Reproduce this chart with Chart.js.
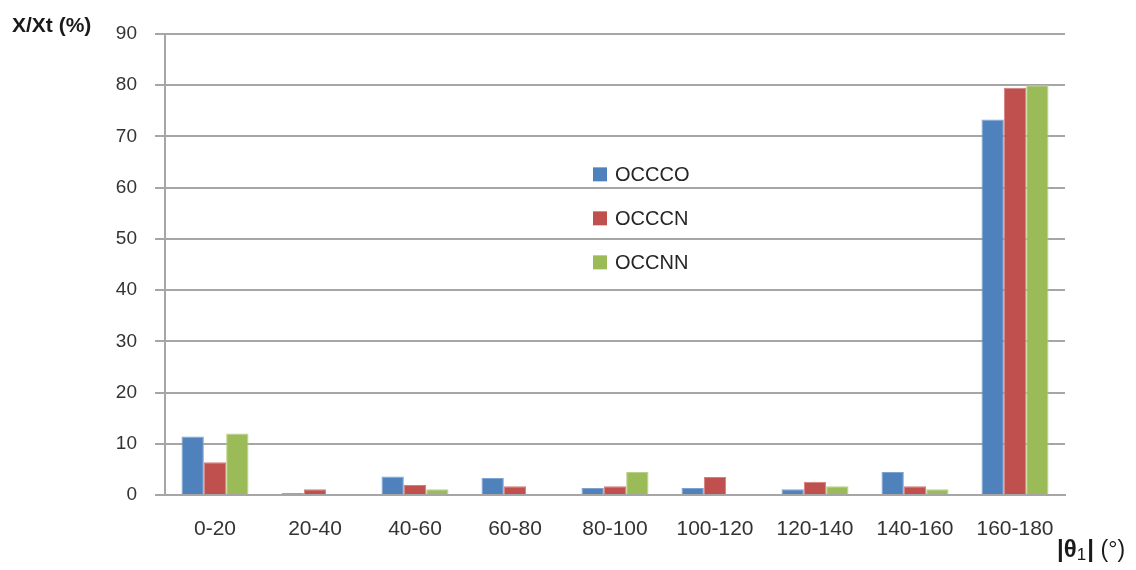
<!DOCTYPE html>
<html>
<head>
<meta charset="UTF-8">
<title>X/Xt by theta1</title>
<script src="https://cdn.jsdelivr.net/npm/chart.js@4"></script>
<style>
  body { margin: 0; background: #fff; }
  #wrap { width: 1136px; height: 570px; }
</style>
</head>
<body>
<div id="wrap"><canvas id="chart"></canvas></div>
<script>
// angle ranges for |theta1|
const categories = ["0-20", "20-40", "40-60", "60-80", "80-100", "100-120", "120-140", "140-160", "160-180"];
// X/Xt in percent
const occco = [11.4, 0.4, 3.6, 3.3, 1.35, 1.35, 1.1, 4.5, 73.3];
const occcn = [6.4, 1.1, 1.95, 1.7, 1.7, 3.5, 2.6, 1.7, 79.5];
const occnn = [12.0, 0, 1.1, 0, 4.5, 0, 1.7, 1.1, 80.0];
const yTicks = [0, 10, 20, 30, 40, 50, 60, 70, 80, 90];

const font = "'Liberation Sans', Arial, sans-serif";
const textColor = "#333333";

// legend sits inside the plot, drawn by hand
const innerLegend = {
  id: "innerLegend",
  afterDatasetsDraw(chart) {
    const ctx = chart.ctx;
    const x = 593;
    let y = chart.scales.y.getPixelForValue(62.6);
    ctx.save();
    ctx.font = "20px " + font;
    ctx.textBaseline = "middle";
    chart.data.datasets.forEach(ds => {
      ctx.fillStyle = ds.backgroundColor;
      ctx.fillRect(x, y - 7, 14, 14);
      ctx.fillStyle = "#262626";
      ctx.fillText(ds.label, x + 22, y + 1);
      y += 44;
    });
    ctx.restore();
  }
};

// axis titles
const axisTitles = {
  id: "axisTitles",
  afterDraw(chart) {
    const ctx = chart.ctx;
    ctx.save();
    ctx.fillStyle = "#1a1a1a";
    ctx.textBaseline = "alphabetic";
    ctx.font = "bold 21px " + font;
    ctx.fillText("X/Xt (%)", 12, 32);
    // |θ1| (°)
    let x = 1057, y = 557;
    ctx.font = "bold 24px " + font;
    ctx.fillText("|θ", x, y);
    x += ctx.measureText("|θ").width;
    ctx.font = "17px " + font;
    ctx.fillText("1", x, y + 3);
    x += ctx.measureText("1").width + 1;
    ctx.font = "bold 24px " + font;
    ctx.fillText("|", x, y);
    x += ctx.measureText("| ").width;
    ctx.font = "23px " + font;
    ctx.fillText("(°)", x, y);
    ctx.restore();
  }
};

new Chart(document.getElementById("chart"), {
  type: "bar",
  data: {
    labels: categories,
    datasets: [
      { label: "OCCCO", data: occco, backgroundColor: "#4F81BD", borderColor: "#7fa3cf", borderWidth: 1 },
      { label: "OCCCN", data: occcn, backgroundColor: "#C0504D", borderColor: "#d27f7d", borderWidth: 1 },
      { label: "OCCNN", data: occnn, backgroundColor: "#9BBB59", borderColor: "#b9d08a", borderWidth: 1 }
    ]
  },
  options: {
    responsive: true,
    maintainAspectRatio: false,
    animation: false,
    layout: { padding: { top: 34, right: 71, left: 0, bottom: 0 } },
    plugins: { legend: { display: false }, tooltip: { enabled: false } },
    datasets: { bar: { categoryPercentage: 0.67, barPercentage: 1.0 } },
    scales: {
      x: {
        grid: { display: false, drawTicks: false },
        border: { color: "#a6a6a6", width: 2 },
        ticks: { color: textColor, font: { family: font, size: 21 }, padding: 22, maxRotation: 0 },
        afterFit(s) { s.height = 75; }
      },
      y: {
        min: 0,
        max: 90,
        afterBuildTicks(s) { s.ticks = yTicks.map(v => ({ value: v })); },
        grid: { color: "#a6a6a6", lineWidth: 2, tickLength: 10, tickColor: "#a6a6a6" },
        border: { color: "#a6a6a6", width: 2 },
        ticks: { color: textColor, font: { family: font, size: 19 }, padding: 18 },
        afterFit(s) { s.width = 165; }
      }
    }
  },
  plugins: [innerLegend, axisTitles]
});
</script>
</body>
</html>
